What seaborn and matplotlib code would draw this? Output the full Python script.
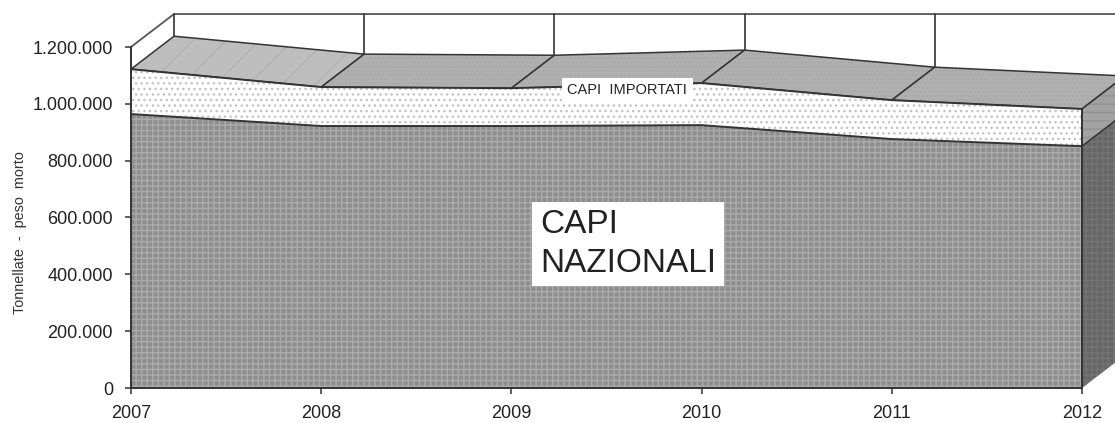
import matplotlib
matplotlib.use('Agg')
import matplotlib.pyplot as plt
import seaborn as sns

years = [2007, 2008, 2009, 2010, 2011, 2012]
capi_nazionali = [964000, 922000, 922000, 925000, 876000, 851000]
capi_importati = [158000, 137000, 133000, 148000, 137000, 131000]
y_ticks = [0, 200000, 400000, 600000, 800000, 1000000, 1200000]
y_tick_labels = ['0', '200.000', '400.000', '600.000', '800.000', '1.000.000', '1.200.000']

# 3d depth of the chart, in data units (43 px right, 33 px up)
DX = 0.226
DY = 116000
LINE = '#333333'

sns.set_style('white')
plt.rcParams['font.family'] = ['Liberation Sans', 'DejaVu Sans']
plt.rcParams['hatch.linewidth'] = 1.0

totale = [n + i for n, i in zip(capi_nazionali, capi_importati)]

fig = plt.figure(figsize=(11.15, 4.23), dpi=100)
ax = fig.add_axes([131 / 1115, 35 / 423, 951 / 1115, 341 / 423])
ax.set_xlim(years[0], years[-1])
ax.set_ylim(0, 1200000)

# back wall
top = y_ticks[-1] + DY
ax.plot([years[0], years[0] + DX, years[-1] + DX], [y_ticks[-1], top, top],
        color='#555555', lw=1.3, clip_on=False)
for year, tot in zip(years, totale):
    ax.plot([year + DX, year + DX], [tot + DY, top], color=LINE, lw=1.2, clip_on=False)

# top faces, one per year (the first one is lighter and stippled)
for i in range(len(years) - 1):
    face = '#bebebe' if i == 0 else '#b0b0b0'
    hatch_col = '#b2b2b2' if i == 0 else '#a8a8a8'
    xs = [years[i], years[i + 1], years[i + 1] + DX, years[i] + DX]
    ys = [totale[i], totale[i + 1], totale[i + 1] + DY, totale[i] + DY]
    ax.fill(xs, ys, facecolor=face, edgecolor=hatch_col, hatch='/' if i == 0 else '....',
            lw=0, clip_on=False, zorder=2)
    ax.fill(xs, ys, facecolor='none', edgecolor=LINE, lw=1.1, clip_on=False, zorder=2)

# right side faces
ax.fill([years[-1], years[-1] + DX, years[-1] + DX, years[-1]],
        [capi_nazionali[-1], capi_nazionali[-1] + DY, totale[-1] + DY, totale[-1]],
        facecolor='#a2a2a2', edgecolor='#929292', hatch='--', lw=0, clip_on=False, zorder=2)
ax.fill([years[-1], years[-1] + DX, years[-1] + DX, years[-1]],
        [0, DY, capi_nazionali[-1] + DY, capi_nazionali[-1]],
        facecolor='#666666', edgecolor='#747474', hatch='+++', lw=0, clip_on=False, zorder=2)

# front stacked areas
ax.fill_between(years, 0, capi_nazionali, facecolor='#8e8e8e', edgecolor='#ababab',
                hatch='+++', lw=0, zorder=3)
ax.fill_between(years, capi_nazionali, totale, facecolor='white', edgecolor='#c2c2c2',
                hatch='...', lw=0, zorder=3)

# outlines
sns.lineplot(x=years, y=capi_nazionali, color=LINE, lw=1.4, ax=ax, zorder=4, clip_on=False)
sns.lineplot(x=years, y=totale, color=LINE, lw=1.4, ax=ax, zorder=4, clip_on=False)
ax.plot([years[-1], years[-1]], [0, totale[-1]], color=LINE, lw=1.4, zorder=4, clip_on=False)
ax.plot([years[-1], years[-1] + DX], [totale[-1], totale[-1] + DY], color=LINE, lw=1.1,
        zorder=4, clip_on=False)
ax.plot([years[-1], years[-1] + DX], [capi_nazionali[-1], capi_nazionali[-1] + DY],
        color=LINE, lw=1.1, zorder=4, clip_on=False)

ax.set_xticks(years)
ax.set_xticklabels(years)
ax.set_yticks(y_ticks)
ax.set_yticklabels(y_tick_labels)
ax.tick_params(axis='both', labelsize=13, length=4.5, width=1.1, color=LINE,
               labelcolor='#222222', left=True, bottom=True)
ax.tick_params(axis='y', pad=8.5)
ax.tick_params(axis='x', pad=7.5)
ax.set_ylabel('Tonnellate  -  peso  morto', fontsize=10.4, color='#333333')
ax.yaxis.set_label_coords(-0.109, 0.455)

for side in ['top', 'right']:
    ax.spines[side].set_visible(False)
for side in ['left', 'bottom']:
    ax.spines[side].set_color(LINE)
    ax.spines[side].set_linewidth(1.4)
    ax.spines[side].set_zorder(5)

ax.text(2009.61, 1047000, 'CAPI  IMPORTATI', fontsize=10.5, color='#222222', ha='center', va='center',
        zorder=6, bbox=dict(facecolor='white', edgecolor='none', pad=4))
ax.text(2009.15, 507000, 'CAPI\nNAZIONALI', fontsize=24, color='#222222', ha='left', va='center',
        linespacing=1.3, zorder=6, bbox=dict(facecolor='white', edgecolor='none', pad=5.5))

fig.savefig('out.png', dpi=100)
plt.close(fig)
